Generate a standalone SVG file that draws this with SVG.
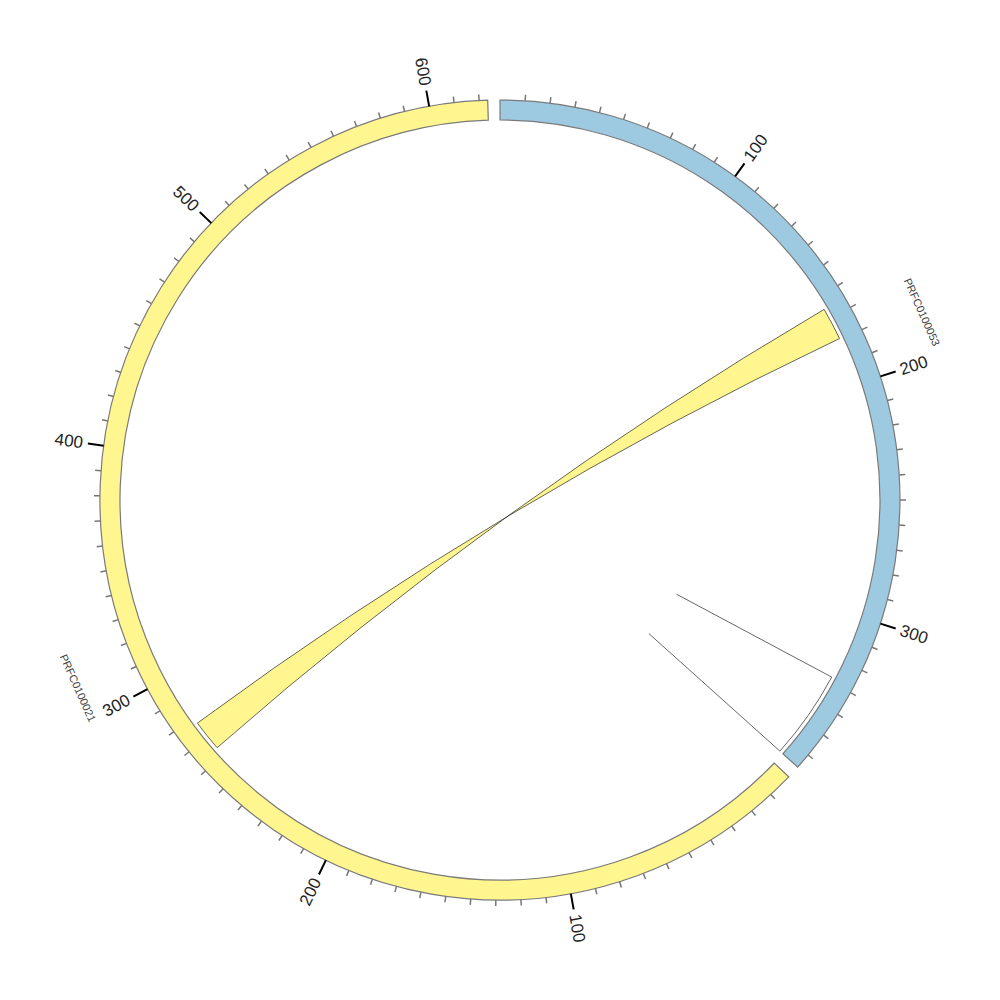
<svg xmlns="http://www.w3.org/2000/svg" width="1000" height="1000" viewBox="0 0 1000 1000">
<style>
.ideo{stroke:#7a7a7a;stroke-width:1.2}
.blue{fill:#9ecae1}
.yellow{fill:#fff68f}
.minor{stroke:#777;stroke-width:1.5}
.major{stroke:#000;stroke-width:2}
.tl{font-family:"Liberation Sans",Arial,sans-serif;font-size:17px;fill:#222;dominant-baseline:central}
.cl{font-family:"Liberation Sans",Arial,sans-serif;font-size:11px;fill:#444;dominant-baseline:central;text-anchor:middle}
.link{stroke:#000;stroke-width:0.6}
</style>
<rect width="1000" height="1000" fill="#fff"/>
<g id="links">
<path class="link yellow" d="M824.1,309.4 A376,376 0 0 1 839.5,338.5 Q500,500 197.4,723.1 A376,376 0 0 0 217.1,747.7 Q500,500 824.1,309.4 Z"/>
<path class="link" fill="none" d="M676.5,594.2 L831.7,677.1 A376,376 0 0 1 779.9,751.1 L648.9,633.6"/>
</g>
<g id="PRFC0100053">
<path class="ideo blue" d="M500,100 A400,400 0 0 1 797.7,767.1 L782.8,753.8 A380,380 0 0 0 500,120 Z"/>
<g class="minor">
<line x1="500" y1="100" x2="500" y2="94" transform="rotate(3.6 500 500)"/>
<line x1="500" y1="100" x2="500" y2="94" transform="rotate(7.2 500 500)"/>
<line x1="500" y1="100" x2="500" y2="94" transform="rotate(10.8 500 500)"/>
<line x1="500" y1="100" x2="500" y2="94" transform="rotate(14.4 500 500)"/>
<line x1="500" y1="100" x2="500" y2="94" transform="rotate(18 500 500)"/>
<line x1="500" y1="100" x2="500" y2="94" transform="rotate(21.6 500 500)"/>
<line x1="500" y1="100" x2="500" y2="94" transform="rotate(25.2 500 500)"/>
<line x1="500" y1="100" x2="500" y2="94" transform="rotate(28.8 500 500)"/>
<line x1="500" y1="100" x2="500" y2="94" transform="rotate(32.4 500 500)"/>
<line x1="500" y1="100" x2="500" y2="94" transform="rotate(39.6 500 500)"/>
<line x1="500" y1="100" x2="500" y2="94" transform="rotate(43.2 500 500)"/>
<line x1="500" y1="100" x2="500" y2="94" transform="rotate(46.8 500 500)"/>
<line x1="500" y1="100" x2="500" y2="94" transform="rotate(50.4 500 500)"/>
<line x1="500" y1="100" x2="500" y2="94" transform="rotate(54 500 500)"/>
<line x1="500" y1="100" x2="500" y2="94" transform="rotate(57.6 500 500)"/>
<line x1="500" y1="100" x2="500" y2="94" transform="rotate(61.2 500 500)"/>
<line x1="500" y1="100" x2="500" y2="94" transform="rotate(64.8 500 500)"/>
<line x1="500" y1="100" x2="500" y2="94" transform="rotate(68.4 500 500)"/>
<line x1="500" y1="100" x2="500" y2="94" transform="rotate(75.6 500 500)"/>
<line x1="500" y1="100" x2="500" y2="94" transform="rotate(79.2 500 500)"/>
<line x1="500" y1="100" x2="500" y2="94" transform="rotate(82.8 500 500)"/>
<line x1="500" y1="100" x2="500" y2="94" transform="rotate(86.4 500 500)"/>
<line x1="500" y1="100" x2="500" y2="94" transform="rotate(90 500 500)"/>
<line x1="500" y1="100" x2="500" y2="94" transform="rotate(93.6 500 500)"/>
<line x1="500" y1="100" x2="500" y2="94" transform="rotate(97.2 500 500)"/>
<line x1="500" y1="100" x2="500" y2="94" transform="rotate(100.8 500 500)"/>
<line x1="500" y1="100" x2="500" y2="94" transform="rotate(104.4 500 500)"/>
<line x1="500" y1="100" x2="500" y2="94" transform="rotate(111.6 500 500)"/>
<line x1="500" y1="100" x2="500" y2="94" transform="rotate(115.2 500 500)"/>
<line x1="500" y1="100" x2="500" y2="94" transform="rotate(118.8 500 500)"/>
<line x1="500" y1="100" x2="500" y2="94" transform="rotate(122.4 500 500)"/>
<line x1="500" y1="100" x2="500" y2="94" transform="rotate(126 500 500)"/>
<line x1="500" y1="100" x2="500" y2="94" transform="rotate(129.6 500 500)"/>
</g>
<g class="major">
<line x1="500" y1="100" x2="500" y2="84" transform="rotate(36 500 500)"/>
<line x1="500" y1="100" x2="500" y2="84" transform="rotate(72 500 500)"/>
<line x1="500" y1="100" x2="500" y2="84" transform="rotate(108 500 500)"/>
</g>
<text class="tl" text-anchor="start" transform="rotate(36 500 500) translate(500,79) rotate(-90)">100</text>
<text class="tl" text-anchor="start" transform="rotate(72 500 500) translate(500,79) rotate(-90)">200</text>
<text class="tl" text-anchor="start" transform="rotate(108 500 500) translate(500,79) rotate(-90)">300</text>
<text class="cl" transform="translate(922,312) rotate(66)">PRFC0100053</text>
</g>
<g id="PRFC0100021">
<path class="ideo yellow" d="M788.7,776.8 A400,400 0 1 1 487.7,100.2 L488.3,120.2 A380,380 0 1 0 774.3,763.0 Z"/>
<g class="minor">
<line x1="500" y1="100" x2="500" y2="94" transform="rotate(137.4 500 500)"/>
<line x1="500" y1="100" x2="500" y2="94" transform="rotate(141 500 500)"/>
<line x1="500" y1="100" x2="500" y2="94" transform="rotate(144.6 500 500)"/>
<line x1="500" y1="100" x2="500" y2="94" transform="rotate(148.2 500 500)"/>
<line x1="500" y1="100" x2="500" y2="94" transform="rotate(151.8 500 500)"/>
<line x1="500" y1="100" x2="500" y2="94" transform="rotate(155.4 500 500)"/>
<line x1="500" y1="100" x2="500" y2="94" transform="rotate(159 500 500)"/>
<line x1="500" y1="100" x2="500" y2="94" transform="rotate(162.6 500 500)"/>
<line x1="500" y1="100" x2="500" y2="94" transform="rotate(166.2 500 500)"/>
<line x1="500" y1="100" x2="500" y2="94" transform="rotate(173.4 500 500)"/>
<line x1="500" y1="100" x2="500" y2="94" transform="rotate(177 500 500)"/>
<line x1="500" y1="100" x2="500" y2="94" transform="rotate(180.6 500 500)"/>
<line x1="500" y1="100" x2="500" y2="94" transform="rotate(184.2 500 500)"/>
<line x1="500" y1="100" x2="500" y2="94" transform="rotate(187.8 500 500)"/>
<line x1="500" y1="100" x2="500" y2="94" transform="rotate(191.4 500 500)"/>
<line x1="500" y1="100" x2="500" y2="94" transform="rotate(195 500 500)"/>
<line x1="500" y1="100" x2="500" y2="94" transform="rotate(198.6 500 500)"/>
<line x1="500" y1="100" x2="500" y2="94" transform="rotate(202.2 500 500)"/>
<line x1="500" y1="100" x2="500" y2="94" transform="rotate(209.4 500 500)"/>
<line x1="500" y1="100" x2="500" y2="94" transform="rotate(213 500 500)"/>
<line x1="500" y1="100" x2="500" y2="94" transform="rotate(216.6 500 500)"/>
<line x1="500" y1="100" x2="500" y2="94" transform="rotate(220.2 500 500)"/>
<line x1="500" y1="100" x2="500" y2="94" transform="rotate(223.8 500 500)"/>
<line x1="500" y1="100" x2="500" y2="94" transform="rotate(227.4 500 500)"/>
<line x1="500" y1="100" x2="500" y2="94" transform="rotate(231 500 500)"/>
<line x1="500" y1="100" x2="500" y2="94" transform="rotate(234.6 500 500)"/>
<line x1="500" y1="100" x2="500" y2="94" transform="rotate(238.2 500 500)"/>
<line x1="500" y1="100" x2="500" y2="94" transform="rotate(245.4 500 500)"/>
<line x1="500" y1="100" x2="500" y2="94" transform="rotate(249 500 500)"/>
<line x1="500" y1="100" x2="500" y2="94" transform="rotate(252.6 500 500)"/>
<line x1="500" y1="100" x2="500" y2="94" transform="rotate(256.2 500 500)"/>
<line x1="500" y1="100" x2="500" y2="94" transform="rotate(259.8 500 500)"/>
<line x1="500" y1="100" x2="500" y2="94" transform="rotate(263.4 500 500)"/>
<line x1="500" y1="100" x2="500" y2="94" transform="rotate(267 500 500)"/>
<line x1="500" y1="100" x2="500" y2="94" transform="rotate(270.6 500 500)"/>
<line x1="500" y1="100" x2="500" y2="94" transform="rotate(274.2 500 500)"/>
<line x1="500" y1="100" x2="500" y2="94" transform="rotate(281.4 500 500)"/>
<line x1="500" y1="100" x2="500" y2="94" transform="rotate(285 500 500)"/>
<line x1="500" y1="100" x2="500" y2="94" transform="rotate(288.6 500 500)"/>
<line x1="500" y1="100" x2="500" y2="94" transform="rotate(292.2 500 500)"/>
<line x1="500" y1="100" x2="500" y2="94" transform="rotate(295.8 500 500)"/>
<line x1="500" y1="100" x2="500" y2="94" transform="rotate(299.4 500 500)"/>
<line x1="500" y1="100" x2="500" y2="94" transform="rotate(303 500 500)"/>
<line x1="500" y1="100" x2="500" y2="94" transform="rotate(306.6 500 500)"/>
<line x1="500" y1="100" x2="500" y2="94" transform="rotate(310.2 500 500)"/>
<line x1="500" y1="100" x2="500" y2="94" transform="rotate(317.4 500 500)"/>
<line x1="500" y1="100" x2="500" y2="94" transform="rotate(321 500 500)"/>
<line x1="500" y1="100" x2="500" y2="94" transform="rotate(324.6 500 500)"/>
<line x1="500" y1="100" x2="500" y2="94" transform="rotate(328.2 500 500)"/>
<line x1="500" y1="100" x2="500" y2="94" transform="rotate(331.8 500 500)"/>
<line x1="500" y1="100" x2="500" y2="94" transform="rotate(335.4 500 500)"/>
<line x1="500" y1="100" x2="500" y2="94" transform="rotate(339 500 500)"/>
<line x1="500" y1="100" x2="500" y2="94" transform="rotate(342.6 500 500)"/>
<line x1="500" y1="100" x2="500" y2="94" transform="rotate(346.2 500 500)"/>
<line x1="500" y1="100" x2="500" y2="94" transform="rotate(353.4 500 500)"/>
<line x1="500" y1="100" x2="500" y2="94" transform="rotate(357 500 500)"/>
</g>
<g class="major">
<line x1="500" y1="100" x2="500" y2="84" transform="rotate(169.8 500 500)"/>
<line x1="500" y1="100" x2="500" y2="84" transform="rotate(205.8 500 500)"/>
<line x1="500" y1="100" x2="500" y2="84" transform="rotate(241.8 500 500)"/>
<line x1="500" y1="100" x2="500" y2="84" transform="rotate(277.8 500 500)"/>
<line x1="500" y1="100" x2="500" y2="84" transform="rotate(313.8 500 500)"/>
<line x1="500" y1="100" x2="500" y2="84" transform="rotate(349.8 500 500)"/>
</g>
<text class="tl" text-anchor="start" transform="rotate(169.8 500 500) translate(500,79) rotate(-90)">100</text>
<text class="tl" text-anchor="end" transform="rotate(205.8 500 500) translate(500,79) rotate(90)">200</text>
<text class="tl" text-anchor="end" transform="rotate(241.8 500 500) translate(500,79) rotate(90)">300</text>
<text class="tl" text-anchor="end" transform="rotate(277.8 500 500) translate(500,79) rotate(90)">400</text>
<text class="tl" text-anchor="end" transform="rotate(313.8 500 500) translate(500,79) rotate(90)">500</text>
<text class="tl" text-anchor="end" transform="rotate(349.8 500 500) translate(500,79) rotate(90)">600</text>
<text class="cl" transform="translate(78,688) rotate(66)">PRFC0100021</text>
</g>
</svg>
